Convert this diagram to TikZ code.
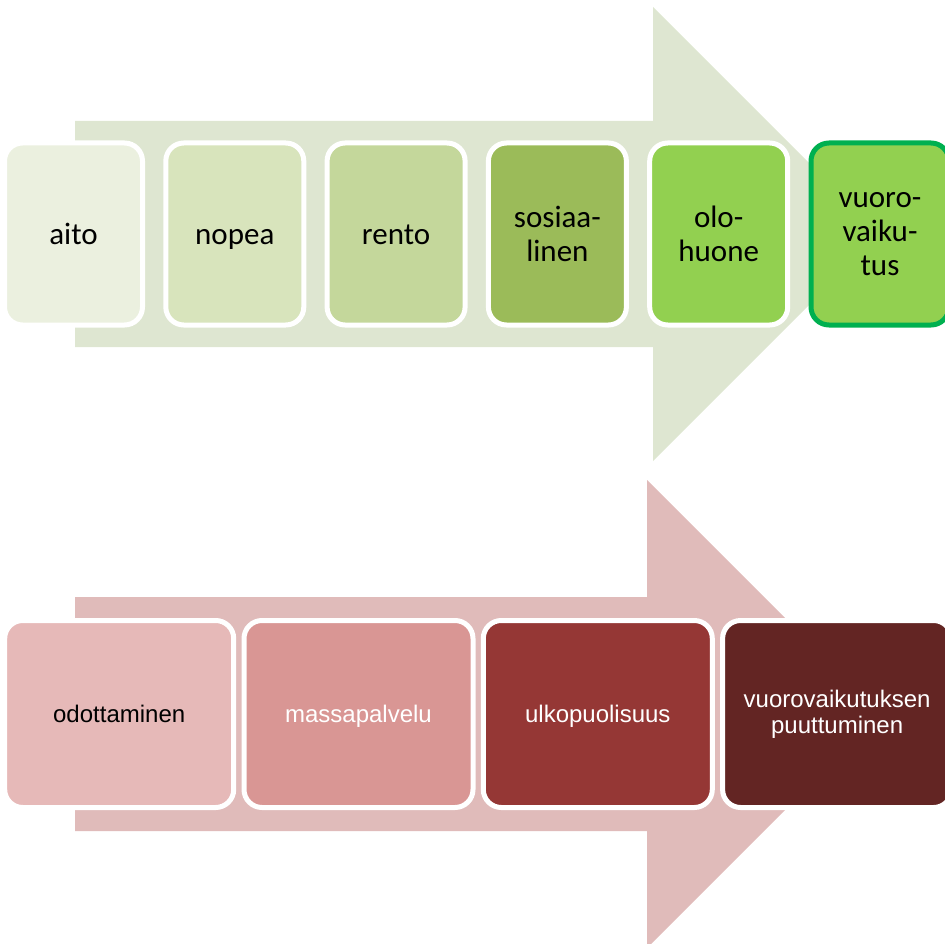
\documentclass[tikz,border=0pt]{standalone}
\usepackage{fontspec}
\setmainfont{Carlito}
\newfontfamily\arialfont{Liberation Sans}
\usepackage{xcolor}
\definecolor{goodarrow}{HTML}{DEE6D1}
\definecolor{good1}{HTML}{EBF0DF}
\definecolor{good2}{HTML}{D8E4BC}
\definecolor{good3}{HTML}{C4D79B}
\definecolor{good4}{HTML}{9BBB59}
\definecolor{good5}{HTML}{92D050}
\definecolor{goodedge}{HTML}{00B050}
\definecolor{badarrow}{HTML}{E0BBBA}
\definecolor{bad1}{HTML}{E6B9B8}
\definecolor{bad2}{HTML}{D99694}
\definecolor{bad3}{HTML}{953735}
\definecolor{bad4}{HTML}{632523}
\usepackage{tikz}
\usetikzlibrary{positioning}

\begin{document}
\begin{tikzpicture}[
  x=1pt, y=-1pt,
  stepcard/.style={
    draw=white, line width=5pt, rounded corners=18pt, align=center, inner sep=0pt
  },
  oneline/.style={
    execute at begin node={\rule{0pt}{0.93\baselineskip}},
    execute at end node=\strut
  },
  goodcard/.style={
    stepcard, minimum width=138pt, minimum height=182pt,
    font=\fontsize{31}{34}\selectfont
  },
  badcard/.style={
    stepcard, minimum width=229pt, minimum height=187pt,
    font=\arialfont\fontsize{24}{26}\selectfont
  }
]
  \useasboundingbox (0,0) rectangle (945,944);

  % upper arrow: what is good
  \fill[goodarrow] (75,121) -- (653,121) -- (653,7) -- (880,234)
    -- (653,461) -- (653,347) -- (75,347) -- cycle;
  \foreach \i/\name/\col in {0/aito/good1, 1/nopea/good2, 2/rento/good3} {
    \node[goodcard, oneline, fill=\col] (\name) at (73.5+161.3*\i, 234) {\name};
  }
  \node[goodcard, fill=good4, right=18.3pt of rento] (sosiaalinen) {sosiaa-\\linen};
  \node[goodcard, fill=good5, right=18.3pt of sosiaalinen] (olohuone) {olo-\\huone};
  \node[goodcard, fill=good5, draw=goodedge, right=18.3pt of olohuone] (vuoro)
    {vuoro-\\vaiku-\\tus};

  % lower arrow: what is missing
  \fill[badarrow] (75,597) -- (647,597) -- (647,480) -- (881,714)
    -- (647,948) -- (647,831) -- (75,831) -- cycle;
  \foreach \i/\name/\col/\txt/\lab in {0/odottaminen/bad1/black/odottaminen,
      1/massa/bad2/white/massapalvelu, 2/ulko/bad3/white/ulkopuolisuus} {
    \node[badcard, oneline, fill=\col, text=\txt] (\name) at (119.2+239.3*\i, 714) {\lab};
  }
  \node[badcard, fill=bad4, text=white, right=5.3pt of ulko] (puute)
    {vuorovaikutuksen\\puuttuminen};
\end{tikzpicture}
\end{document}
